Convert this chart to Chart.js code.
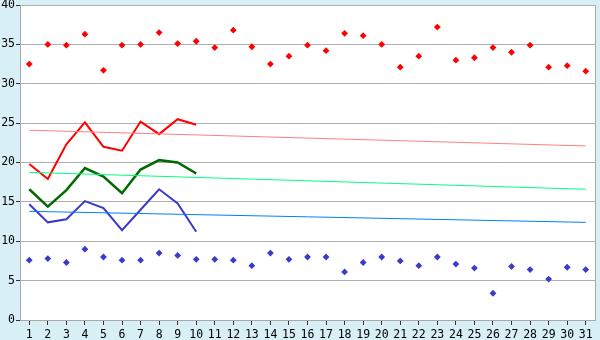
<!DOCTYPE html>
<html>
<head>
<meta charset="utf-8">
<script src="https://cdn.jsdelivr.net/npm/chart.js@4/dist/chart.umd.min.js"></script>
<style>
  html, body { margin: 0; padding: 0; background: #d9eff6; }
  canvas { display: block; }
</style>
</head>
<body>
<canvas id="c" width="600" height="340"></canvas>
<script>
const days = ['1','2','3','4','5','6','7','8','9','10','11','12','13','14','15','16','17','18','19','20','21','22','23','24','25','26','27','28','29','30','31'];
const yTicks = [0, 5, 10, 15, 20, 25, 30, 35, 40];

const maxPoints = [32.5, 35.0, 34.9, 36.3, 31.7, 34.9, 35.0, 36.5, 35.1, 35.4,
                   34.6, 36.8, 34.7, 32.5, 33.5, 34.9, 34.2, 36.4, 36.1, 35.0,
                   32.1, 33.5, 37.2, 33.0, 33.3, 34.6, 34.0, 34.9, 32.1, 32.3, 31.6];
const minPoints = [7.6, 7.8, 7.3, 9.0, 8.0, 7.6, 7.6, 8.5, 8.2, 7.7,
                   7.7, 7.6, 6.9, 8.5, 7.7, 8.0, 8.0, 6.1, 7.3, 8.0,
                   7.5, 6.9, 8.0, 7.1, 6.6, 3.4, 6.8, 6.4, 5.2, 6.7, 6.4];

const highLine = [19.8, 17.9, 22.3, 25.1, 22.0, 21.5, 25.2, 23.6, 25.5, 24.8];
const meanLine = [16.6, 14.4, 16.5, 19.3, 18.2, 16.1, 19.1, 20.3, 20.0, 18.6];
const lowLine  = [14.7, 12.4, 12.8, 15.1, 14.2, 11.4, 14.0, 16.6, 14.8, 11.2];

// normal (trend) lines: values read at day 1 and day 31
const highNormalEnds = [24.1, 22.1];
const meanNormalEnds = [18.75, 16.6];
const lowNormalEnds  = [13.8, 12.4];

function endsToSeries(ends) {
  const arr = days.map(() => null);
  arr[0] = ends[0];
  arr[days.length - 1] = ends[1];
  return arr;
}

const plotBg = {
  id: 'plotBg',
  beforeDraw(chart) {
    const { ctx, chartArea: a } = chart;
    ctx.save();
    ctx.fillStyle = '#ffffff';
    ctx.fillRect(a.left, a.top, a.right - a.left, a.bottom - a.top);
    ctx.restore();
  },
  afterDatasetsDraw(chart) {
    const { ctx, chartArea: a } = chart;
    ctx.save();
    ctx.strokeStyle = '#a8a8a8';
    ctx.lineWidth = 1;
    ctx.beginPath();
    ctx.moveTo(Math.round(a.right) + 0.5, a.top);
    ctx.lineTo(Math.round(a.right) + 0.5, a.bottom);
    ctx.stroke();
    ctx.restore();
  }
};

const font = { family: 'DejaVu Sans Mono', size: 11.5 };

new Chart(document.getElementById('c'), {
  type: 'line',
  data: {
    labels: days,
    datasets: [
      { data: endsToSeries(highNormalEnds), borderColor: '#ff8080', borderWidth: 1, pointRadius: 0, spanGaps: true, tension: 0 },
      { data: endsToSeries(meanNormalEnds), borderColor: '#00ff80', borderWidth: 1, pointRadius: 0, spanGaps: true, tension: 0 },
      { data: endsToSeries(lowNormalEnds), borderColor: '#0080ff', borderWidth: 1, pointRadius: 0, spanGaps: true, tension: 0 },
      { data: highLine, borderColor: '#ff0000', borderWidth: 2, pointRadius: 0, tension: 0 },
      { data: meanLine, borderColor: '#006a00', borderWidth: 2.5, pointRadius: 0, tension: 0 },
      { data: lowLine, borderColor: '#3a3acc', borderWidth: 2, pointRadius: 0, tension: 0 },
      { data: maxPoints, showLine: false, pointStyle: 'rectRot', pointRadius: 3.4, pointBorderWidth: 0, backgroundColor: '#ff0000', borderColor: '#ff0000' },
      { data: minPoints, showLine: false, pointStyle: 'rectRot', pointRadius: 3.4, pointBorderWidth: 0, backgroundColor: '#3a3acc', borderColor: '#3a3acc' }
    ]
  },
  options: {
    responsive: false,
    animation: false,
    events: [],
    layout: { padding: { top: 5, right: 5, left: 0, bottom: 0 } },
    plugins: { legend: { display: false }, tooltip: { enabled: false } },
    scales: {
      x: {
        offset: true,
        grid: { display: true, drawOnChartArea: false, drawTicks: true, tickLength: 5, color: '#333333', offset: false },
        border: { display: true, color: '#a8a8a8' },
        ticks: { color: '#000000', font: font, padding: 3, maxRotation: 0, autoSkip: false },
        afterFit(scale) { scale.height = 20; scale.paddingLeft = 0; scale.paddingRight = 0; }
      },
      y: {
        min: 0, max: 40,
        afterBuildTicks(scale) { scale.ticks = yTicks.map(v => ({ value: v })); },
        grid: { color: '#b0b0b0', tickLength: 4, tickColor: '#333333' },
        border: { display: true, color: '#a8a8a8' },
        ticks: { color: '#000000', font: font, padding: 1 },
        afterFit(scale) { scale.width = 20; scale.paddingTop = 0; scale.paddingBottom = 0; }
      }
    }
  },
  plugins: [plotBg]
});
</script>
</body>
</html>
